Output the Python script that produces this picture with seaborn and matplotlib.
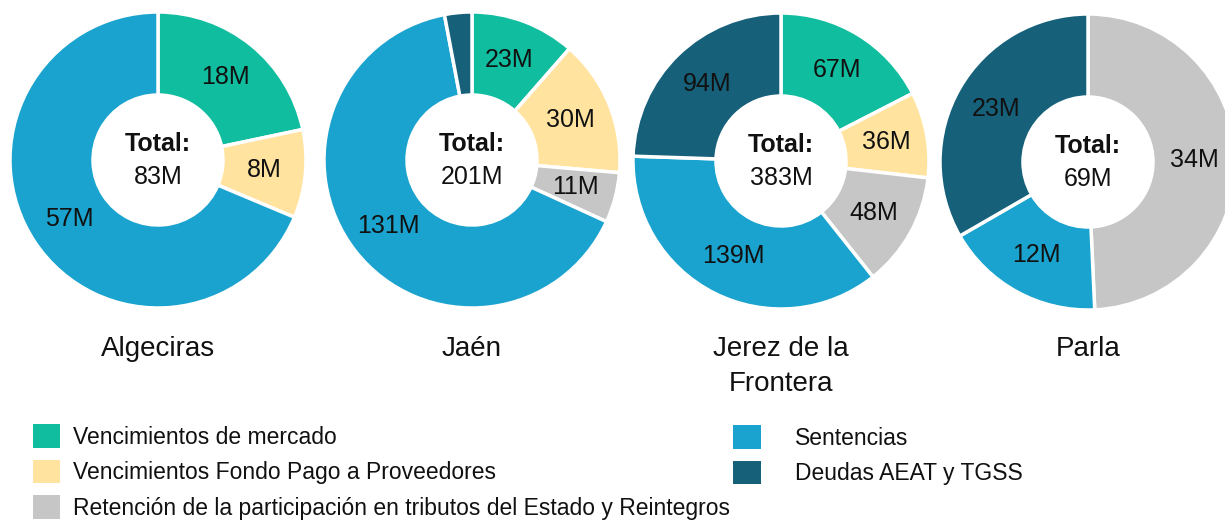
import matplotlib
matplotlib.use("Agg")
import matplotlib.pyplot as plt
from matplotlib.patches import Patch
import seaborn as sns

# ---- data ----
categories = ["Vencimientos de mercado",
              "Vencimientos Fondo Pago a Proveedores",
              "Retención de la participación en tributos del Estado y Reintegros",
              "Sentencias",
              "Deudas AEAT y TGSS"]
cities = ["Algeciras", "Jaén", "Jerez de la\nFrontera", "Parla"]
mercado = [18, 23, 67, 0]
fondo = [8, 30, 36, 0]
retencion = [0, 11, 48, 34]
sentencias = [57, 131, 139, 12]
deudas = [0, 6, 94, 23]
totals = [83, 201, 383, 69]

colors = ["#10BD9E", "#FFE39F", "#C6C6C6", "#1AA3CE", "#16607A"]

sns.set_theme(style="white")
plt.rcParams["font.family"] = ["Liberation Sans", "DejaVu Sans"]

W, H = 1225, 522
fig = plt.figure(figsize=(W / 100, H / 100), dpi=100)
ax = fig.add_axes([0, 0, 1, 1])

# layout (pixel coords, y from top)
centers = [(158, 160), (472, 160), (781, 161), (1088, 162)]
radius = 148
hole = 65

series = [mercado, fondo, retencion, sentencias, deudas]
for i, city in enumerate(cities):
    vals = [s[i] for s in series]
    cols = [c for v, c in zip(vals, colors) if v > 0]
    vals_nz = [v for v in vals if v > 0]
    tot = sum(vals_nz)
    cx, cy = centers[i][0], H - centers[i][1]

    def fmt(p, tot=tot):
        return f"{round(p * tot / 100)}M" if p >= 4 else ""

    ax.pie(vals_nz, colors=cols, startangle=90, counterclock=False,
           radius=radius, center=(cx, cy),
           wedgeprops=dict(width=radius - hole, edgecolor="white", linewidth=2.5),
           autopct=fmt, pctdistance=0.72,
           textprops=dict(fontsize=18, color="#111111"))
    ax.text(cx, cy + 16, "Total:", ha="center", va="center",
            fontsize=18, fontweight="bold", color="#111111")
    ax.text(cx, cy - 17, f"{totals[i]}M", ha="center", va="center",
            fontsize=18, color="#111111")
    ax.text(cx, H - 336, city, ha="center", va="top", fontsize=20,
            color="#111111", linespacing=1.45)

ax.set_xlim(0, W)
ax.set_ylim(0, H)
ax.set_aspect("auto")
ax.axis("off")

handles = [Patch(facecolor=c, edgecolor="none") for c in colors]
fs = 16.5
leg1 = ax.legend(handles[:3], categories[:3], loc="upper left",
                 bbox_to_anchor=(33, H - 424), bbox_transform=ax.transData,
                 frameon=False, fontsize=fs, handlelength=1.18, handleheight=1.22,
                 handletextpad=0.55, labelspacing=0.48, borderpad=0, borderaxespad=0)
ax.add_artist(leg1)
leg2 = ax.legend(handles[3:], categories[3:], loc="upper left",
                 bbox_to_anchor=(733, H - 425), bbox_transform=ax.transData,
                 frameon=False, fontsize=fs, handlelength=1.22, handleheight=1.22,
                 handletextpad=1.5, labelspacing=0.48, borderpad=0, borderaxespad=0)
for leg in (leg1, leg2):
    for t in leg.get_texts():
        t.set_color("#111111")

fig.savefig("out.png", dpi=100)
